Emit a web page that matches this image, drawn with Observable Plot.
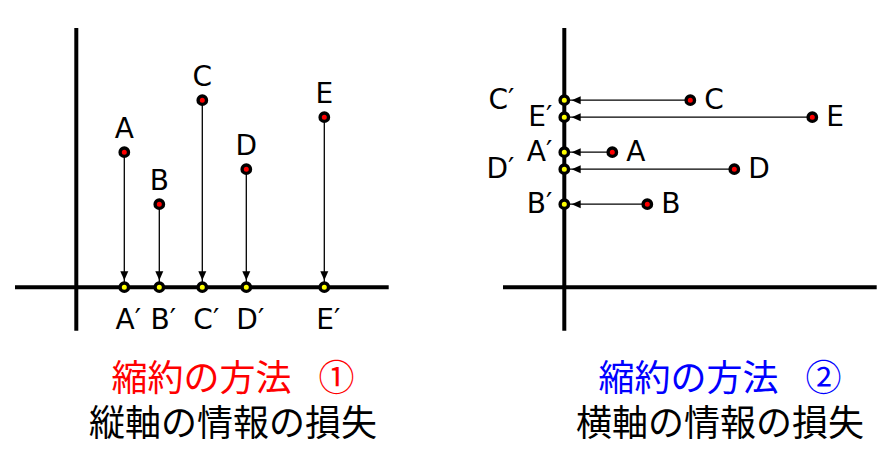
<!DOCTYPE html>
<html><head><meta charset="utf-8">
<script src="https://cdn.jsdelivr.net/npm/d3@7"></script>
<script src="https://cdn.jsdelivr.net/npm/@observablehq/plot@0.6"></script>
<style>
body{margin:0;background:#fff;}
#wrap{position:relative;width:883px;height:460px;overflow:hidden;background:#fff;}
#p1,#p2{position:absolute;top:0;}
#p1{left:0}
#p2{left:488px}
.t{position:absolute;font-family:"Liberation Sans","Noto Sans CJK JP";font-size:36px;line-height:40px;height:40px;text-align:center;white-space:nowrap;}
.t span{display:inline-block;}
</style></head><body>
<div id="wrap">
<div id="p1"></div><div id="p2"></div>
<div class="t" id="t1a" style="left:0;width:466px;top:359px;color:#ff0000"></div>
<div class="t" id="t1b" style="left:0;width:466px;top:404px;color:#000"></div>
<div class="t" id="t2a" style="left:488px;width:464px;top:359px;color:#0000ff"></div>
<div class="t" id="t2b" style="left:488px;width:464px;top:404px;color:#000"></div>
</div>
<script>
// data
const names = ["A", "B", "C", "D", "E"];
const xs = [4.8, 8.3, 12.6, 17.0, 24.8];
const ys = [13.5, 8.3, 18.7, 11.8, 17.0];
const prime = "\u2032";
const farLabels = ["C", "D"]; // right panel: projected labels placed further left
const titles1 = ["縮約の方法", "①", "縦軸の情報の損失"];
const titles2 = ["縮約の方法", "②", "横軸の情報の損失"];

const pts = names.map((n, i) => ({name: n, x: xs[i], y: ys[i]}));

const font = "DejaVu Sans";
const fs = 28;

function frame(width, marginRight, marks) {
  return Plot.plot({
    width, height: 340,
    marginLeft: 15, marginRight, marginTop: 28, marginBottom: 9.3,
    x: {domain: [-6.08, 31.29], axis: null},
    y: {domain: [-4.4, 25.87], axis: null},
    style: {fontFamily: font, background: "white", overflow: "visible"},
    marks
  });
}

const dotStyle = {r: 4.2, stroke: "black", strokeWidth: 3.4};

const left = frame(488, 99.3, [
  Plot.ruleY([0], {stroke: "black", strokeWidth: 4}),
  Plot.ruleX([0], {stroke: "black", strokeWidth: 4}),
  Plot.link(pts, {x1: "x", y1: "y", x2: "x", y2: 0, stroke: "black", strokeWidth: 1.3}),
  Plot.vector(pts, {x: "x", y: 0, rotate: 180, length: 9, r: 4, shape: "spike", anchor: "end", dy: -7, fill: "black", stroke: "none"}),
  Plot.dot(pts, {x: "x", y: "y", fill: "#ff0000", ...dotStyle}),
  Plot.dot(pts, {x: "x", y: 0, fill: "#ffff00", ...dotStyle}),
  Plot.text(pts, {x: "x", y: "y", text: "name", dy: -14, lineAnchor: "bottom", fontSize: fs, fill: "black"}),
  Plot.text(pts, {x: "x", y: 0, text: d => d.name + prime, dy: 42, dx: 4, lineAnchor: "bottom", fontSize: fs, fill: "black"})
]);

const right = frame(395, 6.3, [
  Plot.ruleY([0], {stroke: "black", strokeWidth: 4}),
  Plot.ruleX([0], {stroke: "black", strokeWidth: 4}),
  Plot.link(pts, {x1: "x", y1: "y", x2: 0, y2: "y", stroke: "black", strokeWidth: 1.3}),
  Plot.vector(pts, {x: 0, y: "y", rotate: -90, length: 9, r: 4, shape: "spike", anchor: "end", dx: 7.4, fill: "black", stroke: "none"}),
  Plot.dot(pts, {x: "x", y: "y", fill: "#ff0000", ...dotStyle}),
  Plot.dot(pts, {x: 0, y: "y", fill: "#ffff00", ...dotStyle}),
  Plot.text(pts, {x: "x", y: "y", text: "name", dx: 14, textAnchor: "start", lineAnchor: "middle", fontSize: fs, fill: "black"}),
  Plot.text(pts, {filter: d => !farLabels.includes(d.name), x: 0, y: "y", text: d => d.name + prime, dx: -12, textAnchor: "end", lineAnchor: "middle", fontSize: fs, fill: "black"}),
  Plot.text(pts, {filter: d => farLabels.includes(d.name), x: 0, y: "y", text: d => d.name + prime, dx: -50, textAnchor: "end", lineAnchor: "middle", fontSize: fs, fill: "black"})
]);

document.getElementById("p1").appendChild(left);
document.getElementById("p2").appendChild(right);

function setTitle(idA, idB, t) {
  const a = document.getElementById(idA);
  const s0 = document.createElement("span");
  s0.textContent = t[0];
  const s = document.createElement("span");
  s.style.marginLeft = "27px";
  s.textContent = t[1];
  a.appendChild(s0);
  a.appendChild(s);
  const b = document.getElementById(idB);
  const s2 = document.createElement("span");
  s2.textContent = t[2];
  b.appendChild(s2);
}
setTitle("t1a", "t1b", titles1);
setTitle("t2a", "t2b", titles2);
</script>
</body></html>
